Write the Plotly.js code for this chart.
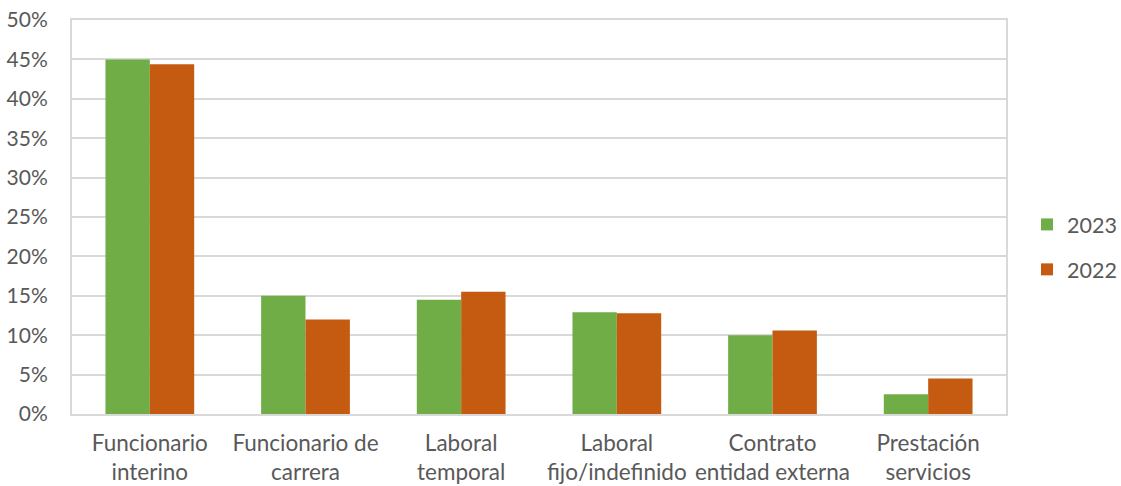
<!DOCTYPE html>
<html>
<head>
<meta charset="utf-8">
<script src="https://cdn.plot.ly/plotly-3.0.1.min.js"></script>
<style>html,body{margin:0;padding:0;background:#fff;}#chart{width:1121px;height:486px;}</style>
</head>
<body>
<div id="chart"></div>
<script>
const categories = ["Funcionario<br>interino", "Funcionario de<br>carrera", "Laboral<br>temporal", "Laboral<br>fijo/indefinido", "Contrato<br>entidad externa", "Prestación<br>servicios"];
const values2023 = [0.450, 0.150, 0.145, 0.129, 0.100, 0.025];
const values2022 = [0.444, 0.120, 0.155, 0.128, 0.106, 0.045];
const seriesNames = ["2023", "2022"];
const yTicks = [0, 0.05, 0.10, 0.15, 0.20, 0.25, 0.30, 0.35, 0.40, 0.45, 0.50];
const yTickLabels = ["0%", "5%", "10%", "15%", "20%", "25%", "30%", "35%", "40%", "45%", "50%"];

const fam = "Lato, 'Open Sans', sans-serif";
const col = "#595959";

const traces = [
  {type: "bar", name: seriesNames[0], x: categories, y: values2023, legendgroup: "a",
   marker: {color: "#70ad47", line: {width: 0}}, hoverinfo: "skip"},
  {type: "bar", name: seriesNames[1], x: categories, y: values2022, legendgroup: "b",
   marker: {color: "#c55a11", line: {width: 0}}, hoverinfo: "skip"}
];

const layout = {
  width: 1121, height: 486,
  margin: {l: 72, r: 115, t: 20, b: 72},
  paper_bgcolor: "#ffffff", plot_bgcolor: "#ffffff",
  font: {family: fam, size: 21, color: col},
  barmode: "group", bargap: 0.43, bargroupgap: 0,
  showlegend: true,
  legend: {x: 1027/1121, xref: "container", y: 0.424, yanchor: "middle", xanchor: "left",
           font: {family: fam, size: 21.5, color: col}, traceorder: "grouped", tracegroupgap: 14, itemwidth: 30},
  xaxis: {type: "category", showgrid: false, showline: true, linecolor: "#d9d9d9", linewidth: 2,
          mirror: true, ticks: "", tickfont: {family: fam, size: 22.5, color: col}, zeroline: false,
          ticklabelstandoff: 8, fixedrange: true},
  yaxis: {range: [0, 0.5], tickvals: yTicks, ticktext: yTickLabels, showgrid: true,
          gridcolor: "#d9d9d9", gridwidth: 2, showline: true, linecolor: "#d9d9d9", linewidth: 2,
          mirror: true, ticks: "", tickfont: {family: fam, size: 21, color: col}, zeroline: false,
          ticklabelstandoff: 18, fixedrange: true}
};

Plotly.newPlot("chart", traces, layout, {staticPlot: true, displayModeBar: false});
</script>
</body>
</html>
